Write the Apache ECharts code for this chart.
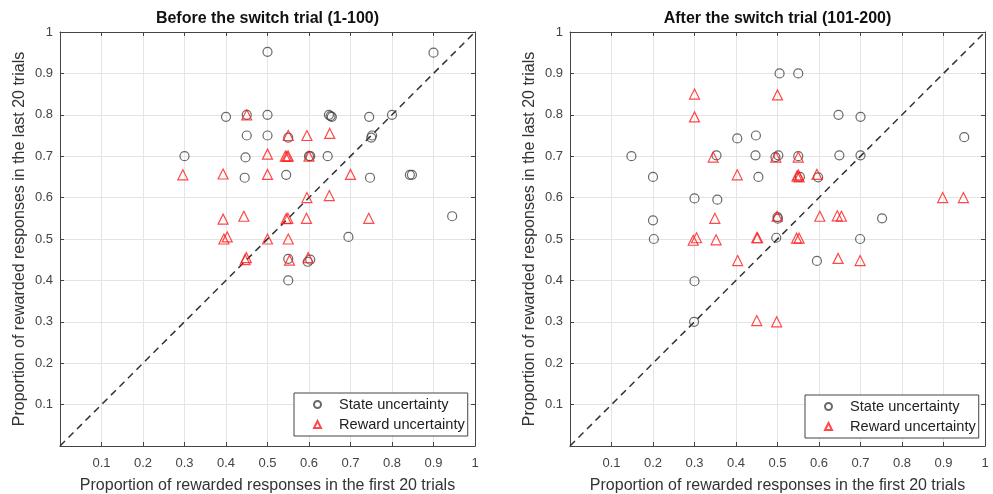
<!DOCTYPE html>
<html>
<head>
<meta charset="utf-8">
<script src="https://cdn.jsdelivr.net/npm/echarts@6/dist/echarts.min.js"></script>
<style>
  html, body { margin: 0; padding: 0; background: #fff; }
  #main { width: 993px; height: 494px; }
</style>
</head>
<body>
<div id="main"></div>
<script>
// before the switch (trials 1-100): [first 20, last 20]
var stateBefore = [
  [0.50, 0.952], [0.90, 0.950], [0.40, 0.795], [0.45, 0.80], [0.50, 0.80],
  [0.648, 0.80], [0.652, 0.797], [0.655, 0.795], [0.745, 0.795], [0.80, 0.80],
  [0.45, 0.75], [0.50, 0.75], [0.55, 0.745], [0.75, 0.745], [0.752, 0.75],
  [0.30, 0.70], [0.447, 0.697], [0.60, 0.70], [0.603, 0.70], [0.645, 0.70],
  [0.445, 0.648], [0.545, 0.655], [0.747, 0.648], [0.843, 0.655], [0.848, 0.655],
  [0.945, 0.555], [0.695, 0.505],
  [0.55, 0.452], [0.597, 0.445], [0.603, 0.45], [0.55, 0.40]
];
var rewardBefore = [
  [0.45, 0.80], [0.55, 0.75], [0.595, 0.75], [0.65, 0.755],
  [0.50, 0.705], [0.543, 0.70], [0.547, 0.70], [0.55, 0.70], [0.60, 0.70],
  [0.296, 0.655], [0.393, 0.657], [0.50, 0.656], [0.70, 0.656],
  [0.595, 0.60], [0.649, 0.605],
  [0.393, 0.548], [0.443, 0.555], [0.545, 0.549], [0.549, 0.55], [0.594, 0.55], [0.744, 0.55],
  [0.395, 0.50], [0.403, 0.505], [0.50, 0.50], [0.55, 0.50],
  [0.446, 0.45], [0.449, 0.455], [0.553, 0.449], [0.598, 0.455]
];
// after the switch (trials 101-200)
var stateAfter = [
  [0.505, 0.90], [0.55, 0.90], [0.647, 0.80], [0.70, 0.795], [0.95, 0.746], [0.403, 0.743], [0.448, 0.75],
  [0.148, 0.70], [0.353, 0.702], [0.447, 0.702], [0.495, 0.698], [0.502, 0.702], [0.55, 0.70], [0.649, 0.702], [0.70, 0.702],
  [0.20, 0.65], [0.454, 0.65], [0.554, 0.65], [0.598, 0.649],
  [0.30, 0.598], [0.355, 0.595],
  [0.20, 0.545], [0.50, 0.553], [0.501, 0.549], [0.752, 0.55],
  [0.202, 0.50], [0.497, 0.503], [0.699, 0.50],
  [0.595, 0.447], [0.30, 0.398], [0.299, 0.30]
];
var rewardAfter = [
  [0.30, 0.85], [0.50, 0.848], [0.30, 0.795],
  [0.345, 0.698], [0.496, 0.698], [0.55, 0.698],
  [0.403, 0.655], [0.547, 0.652], [0.55, 0.655], [0.552, 0.65], [0.595, 0.656],
  [0.898, 0.60], [0.948, 0.60],
  [0.349, 0.55], [0.499, 0.555], [0.602, 0.555], [0.644, 0.556], [0.654, 0.555],
  [0.297, 0.497], [0.305, 0.503], [0.352, 0.498], [0.45, 0.503], [0.452, 0.503], [0.546, 0.502], [0.552, 0.502],
  [0.404, 0.448], [0.646, 0.453], [0.699, 0.448],
  [0.45, 0.303], [0.498, 0.30]
];
var diagonal = [[0, 0], [1, 1]];

var titles = ['Before the switch trial (1-100)', 'After the switch trial (101-200)'];
var xName = 'Proportion of rewarded responses in the first 20 trials';
var yName = 'Proportion of rewarded responses in the last 20 trials';
var legendNames = ['State uncertainty', 'Reward uncertainty'];

var FONT = '"Liberation Sans", Arial, sans-serif';
var AXIS_COLOR = '#444';

var chart = echarts.init(document.getElementById('main'));

var gridLefts = [60, 570];
var grids = [], xAxes = [], yAxes = [], titleList = [], legends = [], series = [];

function tickLabel(v) {
  return v === 0 ? '' : String(+v.toFixed(1));
}

gridLefts.forEach(function (left, i) {
  // fixed plot box, no auto shrinking for labels
  grids.push({ left: left, top: 32, width: 415, height: 414, outerBoundsMode: 'none', containLabel: false });

  // bottom / left axes with labels
  xAxes.push({
    gridIndex: i, type: 'value', min: 0, max: 1, interval: 0.1, position: 'bottom',
    name: xName, nameLocation: 'middle', nameGap: 32,
    nameTextStyle: { fontFamily: FONT, fontSize: 16, color: '#333' },
    axisLine: { onZero: false, lineStyle: { color: AXIS_COLOR, width: 1 } },
    axisTick: { inside: true, length: 4, lineStyle: { color: AXIS_COLOR } },
    axisLabel: { formatter: tickLabel, fontFamily: FONT, fontSize: 13, color: '#444', margin: 11 },
    splitLine: { show: true, lineStyle: { color: '#e4e4e4' } }
  });
  yAxes.push({
    gridIndex: i, type: 'value', min: 0, max: 1, interval: 0.1, position: 'left',
    name: yName, nameLocation: 'middle', nameGap: 32,
    nameTextStyle: { fontFamily: FONT, fontSize: 16, color: '#333' },
    axisLine: { show: true, onZero: false, lineStyle: { color: AXIS_COLOR, width: 1 } },
    axisTick: { show: true, inside: true, length: 4, lineStyle: { color: AXIS_COLOR } },
    axisLabel: { formatter: tickLabel, fontFamily: FONT, fontSize: 13, color: '#444', margin: 7 },
    splitLine: { show: true, lineStyle: { color: '#e4e4e4' } }
  });
  // top / right box sides with inner ticks
  xAxes.push({
    gridIndex: i, type: 'value', min: 0, max: 1, interval: 0.1, position: 'top',
    axisLine: { onZero: false, lineStyle: { color: AXIS_COLOR, width: 1 } },
    axisTick: { inside: true, length: 4, lineStyle: { color: AXIS_COLOR } },
    axisLabel: { show: false }, splitLine: { show: false }
  });
  yAxes.push({
    gridIndex: i, type: 'value', min: 0, max: 1, interval: 0.1, position: 'right',
    axisLine: { show: true, onZero: false, lineStyle: { color: AXIS_COLOR, width: 1 } },
    axisTick: { show: true, inside: true, length: 4, lineStyle: { color: AXIS_COLOR } },
    axisLabel: { show: false }, splitLine: { show: false }
  });

  titleList.push({
    text: titles[i], left: left + 207.5, top: 11, textAlign: 'center', padding: 0,
    textStyle: { fontFamily: FONT, fontSize: 16, fontWeight: 'bold', color: '#111' }
  });
});

var sets = [[stateBefore, rewardBefore], [stateAfter, rewardAfter]];
sets.forEach(function (pair, i) {
  series.push({
    type: 'line', xAxisIndex: 2 * i, yAxisIndex: 2 * i, data: diagonal,
    symbol: 'none', silent: true, z: 1,
    lineStyle: { color: '#333', width: 1.5, type: [7, 5] }
  });
  series.push({
    name: legendNames[0], type: 'scatter', xAxisIndex: 2 * i, yAxisIndex: 2 * i,
    data: pair[0], symbol: 'circle', symbolSize: 9, z: 3,
    itemStyle: { color: 'rgba(0,0,0,0)', borderColor: '#444', borderWidth: 1.2 }
  });
  series.push({
    name: legendNames[1], type: 'scatter', xAxisIndex: 2 * i, yAxisIndex: 2 * i,
    data: pair[1], symbol: 'triangle', symbolSize: 10, z: 4,
    itemStyle: { color: 'rgba(0,0,0,0)', borderColor: '#ff1a1a', borderWidth: 1.2 }
  });
});

var legendPos = [[294, 393], [805, 395]];
legendPos.forEach(function (p) {
  legends.push({
    data: legendNames, orient: 'vertical', left: p[0], top: p[1],
    itemWidth: 7, itemHeight: 7, itemGap: 5,
    padding: [4, 3, 4, 19],
    backgroundColor: '#fff', borderColor: '#444', borderWidth: 1,
    selectedMode: false,
    textStyle: { fontFamily: FONT, fontSize: 14.6, color: '#222', padding: [0, 0, 0, 13] }
  });
});

chart.setOption({
  animation: false,
  title: titleList,
  grid: grids,
  xAxis: xAxes,
  yAxis: yAxes,
  legend: legends,
  series: series
});
</script>
</body>
</html>
